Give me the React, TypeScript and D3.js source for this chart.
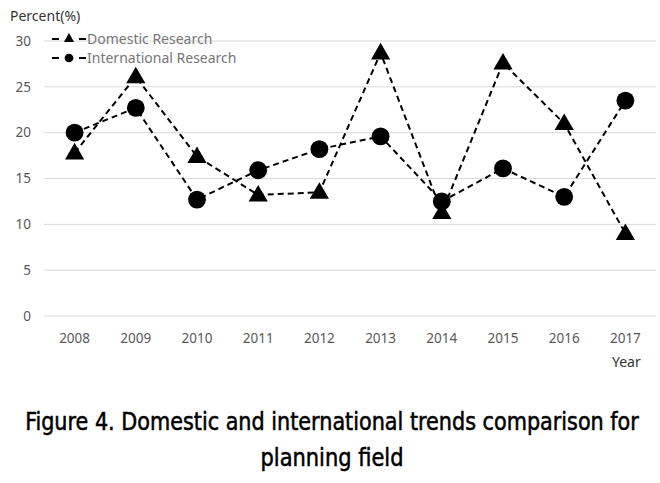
import { useEffect, useRef } from 'react';
import * as d3 from 'd3';

const years = ['2008', '2009', '2010', '2011', '2012', '2013', '2014', '2015', '2016', '2017'];
const domestic = [17.8, 26.1, 17.4, 13.2, 13.5, 28.7, 11.3, 27.6, 21.0, 9.0];
const international = [20.0, 22.7, 12.7, 15.9, 18.2, 19.6, 12.5, 16.1, 13.0, 23.5];
const yTicks = [0, 5, 10, 15, 20, 25, 30];
const seriesNames = ['Domestic Research', 'International Research'];

const W = 660;
const H = 483;
const tickFont = '"Noto Sans", "Open Sans", sans-serif';

export default function App() {
    const ref = useRef<SVGSVGElement>(null);

    useEffect(() => {
        if (!ref.current) return;
        const svg = d3.select(ref.current);
        svg.selectAll('*').remove();

        const x = d3.scaleBand<string>().domain(years).range([44, 656]);
        const y = d3.scaleLinear().domain([0, 30]).range([316, 41]);
        const cx = (d: string) => (x(d) ?? 0) + x.bandwidth() / 2;

        // gridlines
        svg.append('g')
            .selectAll('line')
            .data(yTicks)
            .join('line')
            .attr('x1', 44)
            .attr('x2', 656)
            .attr('y1', d => y(d))
            .attr('y2', d => y(d))
            .attr('stroke', '#d9d9d9')
            .attr('stroke-width', 1);

        // y tick labels
        svg.append('g')
            .selectAll('text')
            .data(yTicks)
            .join('text')
            .attr('x', 31)
            .attr('y', d => y(d))
            .attr('dy', '0.35em')
            .attr('text-anchor', 'end')
            .attr('font-family', tickFont)
            .attr('font-size', 13.5)
            .attr('fill', '#595959')
            .text(d => d);

        // x tick labels
        svg.append('g')
            .selectAll('text')
            .data(years)
            .join('text')
            .attr('x', d => cx(d))
            .attr('y', 343)
            .attr('text-anchor', 'middle')
            .attr('font-family', tickFont)
            .attr('font-size', 13.5)
            .attr('fill', '#595959')
            .text(d => d);

        svg.append('text')
            .attr('x', 10)
            .attr('y', 21)
            .attr('font-family', tickFont)
            .attr('font-size', 14)
            .attr('fill', '#333')
            .text('Percent(%)');

        svg.append('text')
            .attr('x', 612)
            .attr('y', 367)
            .attr('font-family', tickFont)
            .attr('font-size', 14)
            .attr('fill', '#333')
            .text('Year');

        const line = d3.line<number>()
            .x((_, i) => cx(years[i]))
            .y(d => y(d));

        const tri = d3.symbol().type(d3.symbolTriangle).size(160);
        const circ = d3.symbol().type(d3.symbolCircle).size(250);

        const series = [
            { values: international, sym: circ },
            { values: domestic, sym: tri },
        ];

        series.forEach(s => {
            svg.append('path')
                .attr('d', line(s.values))
                .attr('fill', 'none')
                .attr('stroke', '#000')
                .attr('stroke-width', 2)
                .attr('stroke-dasharray', '6,4');
        });

        series.forEach(s => {
            svg.append('g')
                .selectAll('path')
                .data(s.values)
                .join('path')
                .attr('transform', (d, i) => `translate(${cx(years[i])},${y(d) + (s.sym === tri ? 1 : 0)})`)
                .attr('d', s.sym()!)
                .attr('fill', '#000');
        });

        // legend
        const legendSyms = [d3.symbol().type(d3.symbolTriangle).size(45), d3.symbol().type(d3.symbolCircle).size(60)];
        seriesNames.forEach((name, i) => {
            const ly = 39 + i * 19;
            const g = svg.append('g');
            g.append('line')
                .attr('x1', 52).attr('x2', 86)
                .attr('y1', ly).attr('y2', ly)
                .attr('stroke', '#000')
                .attr('stroke-width', 2)
                .attr('stroke-dasharray', '7,20');
            g.append('path')
                .attr('transform', `translate(69,${ly})`)
                .attr('d', legendSyms[i]()!)
                .attr('fill', '#000');
            g.append('text')
                .attr('x', 87)
                .attr('y', ly)
                .attr('dy', '0.35em')
                .attr('font-family', tickFont)
                .attr('font-size', 14)
                .attr('fill', '#767676')
                .text(name);
        });

        // caption: squeezed horizontally to mimic the narrow figure font
        const capLines = ['Figure 4. Domestic and international trends comparison for', 'planning field'];
        const capWidths = [614, 143];
        capLines.forEach((t, i) => {
            const txt = svg.append('text')
                .attr('x', 0)
                .attr('y', 0)
                .attr('text-anchor', 'middle')
                .attr('font-family', '"DejaVu Sans Condensed", "DejaVu Sans", sans-serif')
                .attr('font-size', 24)
                .attr('fill', '#000')
                .attr('stroke', '#000')
                .attr('stroke-width', 0.5)
                .text(t);
            const len = (txt.node() as SVGTextElement).getComputedTextLength() || capWidths[i];
            const sx = capWidths[i] / len;
            txt.attr('transform', `translate(332,${430 + i * 36}) scale(${sx},1)`);
        });
    }, []);

    return (
        <svg
            ref={ref}
            width={W}
            height={H}
            style={{ position: 'absolute', left: 0, top: 0, background: '#fff' }}
        />
    );
}
